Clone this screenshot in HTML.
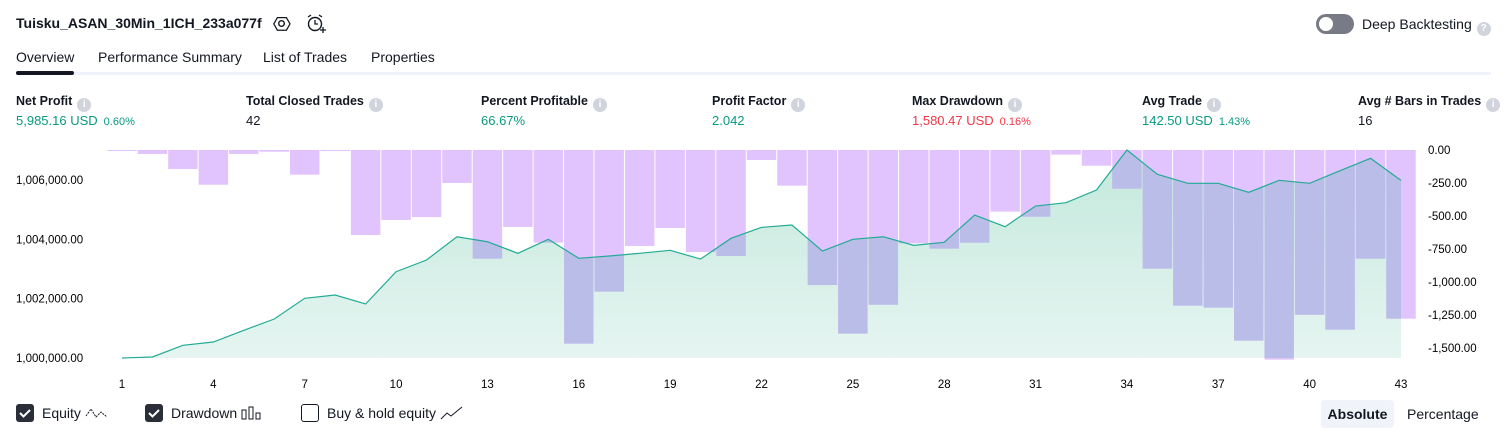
<!DOCTYPE html>
<html><head><meta charset="utf-8">
<style>
*{box-sizing:border-box;margin:0;padding:0}
body{width:1507px;height:438px;background:#fff;font-family:"Liberation Sans",sans-serif;color:#131722;position:relative;overflow:hidden}
.abs{position:absolute;white-space:nowrap}
.title{left:16px;top:15px;font-size:14px;font-weight:bold}
.tab{top:49px;font-size:14px;color:#131722}
.lbl{top:94px;font-size:12.5px;font-weight:bold;color:#131722}
.val{top:113px;font-size:13px}
.pct{font-size:11px;margin-left:6px}
.info{display:inline-block;width:14px;height:14px;border-radius:7px;background:#d1d4dc;color:#fff;font-size:10px;text-align:center;line-height:14px;vertical-align:-2px;margin-left:5px;font-weight:bold}
.g{color:#089981}.r{color:#f23645}
.ax{font-size:11.5px;color:#131722}
.cb{display:inline-block;width:18px;height:18px;border-radius:3px;vertical-align:middle}
</style></head><body>
<div class="abs title">Tuisku_ASAN_30Min_1ICH_233a077f</div>
<svg class="abs" style="left:272px;top:14px" width="20" height="20"><polygon points="5,3 15,3 19,10 15,17 5,17 1,10" fill="none" stroke="#131722" stroke-width="1.4" transform="scale(0.9) translate(1,1)"/><circle cx="9.5" cy="9.5" r="2.8" fill="none" stroke="#131722" stroke-width="1.4"/></svg>
<svg class="abs" style="left:306px;top:13px" width="20" height="22"><circle cx="9" cy="11" r="6.5" fill="none" stroke="#131722" stroke-width="1.4"/><path d="M9 7v4h3M2 4l3-2M16 4l-3-2M14 17h6M17 14v6" stroke="#131722" stroke-width="1.3" fill="none"/></svg>
<div class="abs" style="left:1316px;top:14px;width:38px;height:20px;border-radius:10px;background:#787b86"><div style="position:absolute;left:3px;top:3px;width:14px;height:14px;border-radius:7px;background:#fff"></div></div>
<div class="abs" style="left:1362px;top:16px;font-size:14px">Deep Backtesting<span class="info" style="background:#d1d4dc">?</span></div>

<div class="abs tab" style="left:16px">Overview</div>
<div class="abs tab" style="left:98px">Performance Summary</div>
<div class="abs tab" style="left:263px">List of Trades</div>
<div class="abs tab" style="left:371px">Properties</div>
<div class="abs" style="left:16px;top:72px;width:1475px;height:3px;background:#f0f3fa"></div>
<div class="abs" style="left:16px;top:71px;width:58px;height:4px;border-radius:2px;background:#131722"></div>

<div class="abs lbl" style="left:16px">Net Profit<span class="info">i</span></div>
<div class="abs val g" style="left:16px">5,985.16 USD<span class="pct">0.60%</span></div>
<div class="abs lbl" style="left:246px">Total Closed Trades<span class="info">i</span></div>
<div class="abs val" style="left:246px">42</div>
<div class="abs lbl" style="left:481px">Percent Profitable<span class="info">i</span></div>
<div class="abs val g" style="left:481px">66.67%</div>
<div class="abs lbl" style="left:712px">Profit Factor<span class="info">i</span></div>
<div class="abs val g" style="left:712px">2.042</div>
<div class="abs lbl" style="left:912px">Max Drawdown<span class="info">i</span></div>
<div class="abs val r" style="left:912px">1,580.47 USD<span class="pct">0.16%</span></div>
<div class="abs lbl" style="left:1142px">Avg Trade<span class="info">i</span></div>
<div class="abs val g" style="left:1142px">142.50 USD<span class="pct">1.43%</span></div>
<div class="abs lbl" style="left:1358px">Avg # Bars in Trades<span class="info">i</span></div>
<div class="abs val" style="left:1358px">16</div>

<svg id="chart" class="abs" style="left:0;top:0" width="1507" height="438"></svg>

<div class="abs" style="left:16px;top:404px;font-size:14px"><span class="cb" style="background:#2a2e39;position:relative"><svg width="18" height="18" style="position:absolute;left:0;top:0"><path d="M4 9l3.5 3.5L14 6" stroke="#fff" stroke-width="2" fill="none"/></svg></span><span style="margin-left:8px;vertical-align:middle">Equity</span> <svg width="24" height="14" style="vertical-align:middle"><path d="M1 10l5-7 5 8 5-5 6 5" stroke="#131722" fill="none" stroke-dasharray="2 1"/></svg></div>
<div class="abs" style="left:145px;top:404px;font-size:14px"><span class="cb" style="background:#2a2e39;position:relative"><svg width="18" height="18" style="position:absolute;left:0;top:0"><path d="M4 9l3.5 3.5L14 6" stroke="#fff" stroke-width="2" fill="none"/></svg></span><span style="margin-left:8px;vertical-align:middle">Drawdown</span> <svg width="22" height="14" style="vertical-align:middle"><rect x="1" y="4" width="4" height="9" fill="none" stroke="#131722"/><rect x="8" y="1" width="4" height="12" fill="none" stroke="#131722"/><rect x="15" y="7" width="4" height="6" fill="none" stroke="#131722"/></svg></div>
<div class="abs" style="left:301px;top:404px;font-size:14px"><span class="cb" style="border:1.5px solid #131722"></span><span style="margin-left:8px;vertical-align:middle">Buy &amp; hold equity</span> <svg width="24" height="14" style="vertical-align:middle"><path d="M1 13l6-6 4 3 11-9" stroke="#131722" fill="none"/></svg></div>
<div class="abs" style="left:1321px;top:400px;width:73px;height:28px;border-radius:4px;background:#f0f3fa;font-size:14px;font-weight:bold;text-align:center;line-height:28px">Absolute</div>
<div class="abs" style="left:1407px;top:406px;font-size:14px">Percentage</div>

<script>
const tradeNums = [];
for (let i = 1; i <= 43; i++) tradeNums.push(i);
const equity = [1000000,1000034,1000428,1000539,1000933,1001314,1002012,1002123,1001820,1002908,1003303,1004088,1003919,1003528,1004000,1003361,1003437,1003528,1003629,1003336,1004034,1004404,1004482,1003606,1004000,1004088,1003797,1003898,1004819,1004425,1005122,1005234,1005662,1007010,1006191,1005888,1005888,1005584,1005989,1005888,1006313,1006730,1005985];
const drawdown = [-5,-30,-144,-263,-30,-13,-187,-5,-644,-530,-508,-250,-823,-583,-702,-1467,-1073,-727,-591,-773,-803,-76,-270,-1023,-1391,-1172,-707,-747,-702,-467,-505,-35,-119,-293,-899,-1179,-1194,-1444,-1588,-1248,-1361,-823,-1278];
const equityTicks = [1000000,1002000,1004000,1006000];
const equityTickLabels = ["1,000,000.00","1,002,000.00","1,004,000.00","1,006,000.00"];
const ddTicks = [0,-250,-500,-750,-1000,-1250,-1500];
const ddTickLabels = ["0.00","-250.00","-500.00","-750.00","-1,000.00","-1,250.00","-1,500.00"];
const xTickLabels = [1,4,7,10,13,16,19,22,25,28,31,34,37,40,43];

const NS="http://www.w3.org/2000/svg";
const svg=document.getElementById('chart');
const x0=122, step=(1401-122)/42;
const xs=i=>x0+(i-1)*step;
const yEq=v=>358-(v-1000000)*(178/6000);
const yDD=v=>150-v*(198/1500);
function mk(t,a){const e=document.createElementNS(NS,t);for(const k in a)e.setAttribute(k,a[k]);svg.appendChild(e);return e;}
const defs=mk('defs',{});
defs.innerHTML='<linearGradient id="gr" x1="0" y1="0" x2="0" y2="1"><stop offset="0" stop-color="#c3e8dc"/><stop offset="1" stop-color="#e6f5f1"/></linearGradient>';
let pts=tradeNums.map((n,i)=>xs(n)+','+yEq(equity[i])).join(' ');
const areaD='M'+xs(1)+','+yEq(1000000)+' L'+pts.split(' ').join(' L')+' L'+xs(43)+','+yEq(1000000)+' Z';
const cp=document.createElementNS(NS,'clipPath');cp.setAttribute('id','ac');defs.appendChild(cp);
const cpp=document.createElementNS(NS,'path');cpp.setAttribute('d',areaD);cp.appendChild(cpp);
const area=mk('path',{d:areaD,fill:'url(#gr)'});


const bw=step-1;
drawdown.forEach((v,i)=>{
  const x=xs(tradeNums[i])-step/2+0.5;
  const h=Math.max(1,yDD(v)-150);
  const r=mk('rect',{x:x,y:150,width:bw,height:h,fill:'#e1c4fe'});
  
  
  const r2=mk('rect',{x:x,y:150,width:bw,height:h,fill:'#bbbde9','clip-path':'url(#ac)'});
  
  
});
const line=mk('polyline',{points:pts,fill:'none',stroke:'#22ab94','stroke-width':1.2});


equityTicks.forEach((v,i)=>{const t=mk('text',{x:16,y:yEq(v)+4,class:'ax'});t.textContent=equityTickLabels[i];

});
ddTicks.forEach((v,i)=>{const t=mk('text',{x:1428,y:yDD(v)+4,class:'ax'});t.textContent=ddTickLabels[i];

});
xTickLabels.forEach(n=>{const t=mk('text',{x:xs(n),y:388,class:'ax','text-anchor':'middle'});t.textContent=n;

});
</script>
</body></html>
